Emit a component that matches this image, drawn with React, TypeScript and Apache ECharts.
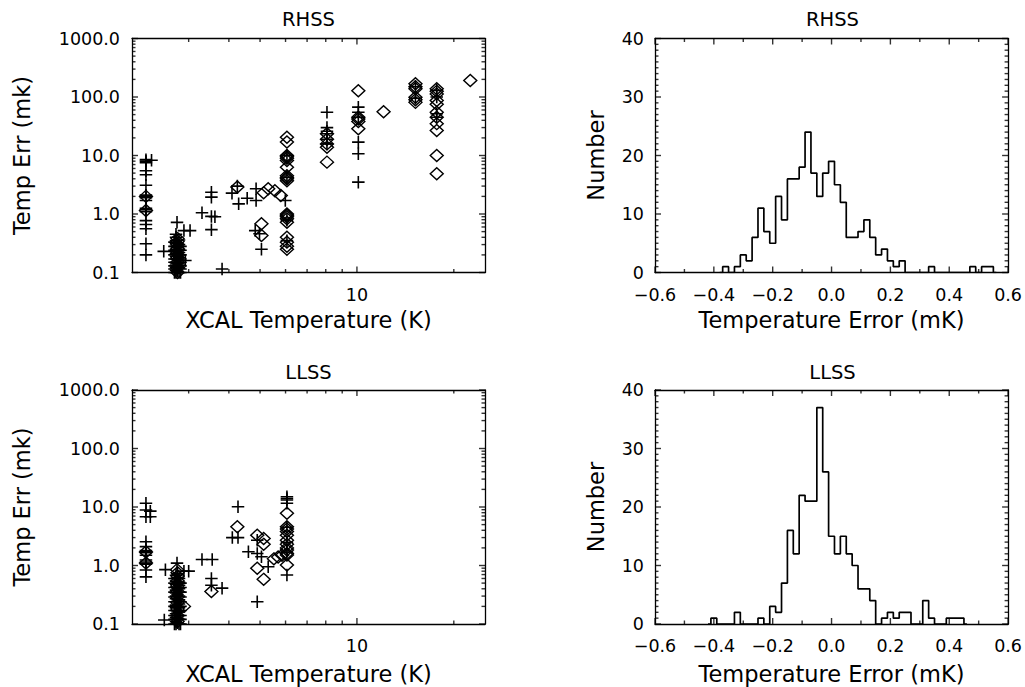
import React, { useEffect, useRef } from "react";
import * as echarts from "echarts";

// ---------------- DATA ----------------
// log-axis tick values (scatter panels)
const xMajorTicks = [10];
const xMinorTicks = [3, 4, 5, 6, 7, 8, 9, 20];
const yMajorTicks = [0.1, 1, 10, 100, 1000];
const yMinorTicks = [
  0.2, 0.3, 0.4, 0.5, 0.6, 0.7, 0.8, 0.9,
  2, 3, 4, 5, 6, 7, 8, 9,
  20, 30, 40, 50, 60, 70, 80, 90,
  200, 300, 400, 500, 600, 700, 800, 900,
];
// histogram tick values
const histXMajor = [-0.6, -0.4, -0.2, 0, 0.2, 0.4, 0.6];
const histXMinor = [-0.5, -0.3, -0.1, 0.1, 0.3, 0.5];
const histYMajor = [0, 10, 20, 30, 40];
const histYMinor = [
  1, 2, 3, 4, 5, 6, 7, 8, 9,
  11, 12, 13, 14, 15, 16, 17, 18, 19,
  21, 22, 23, 24, 25, 26, 27, 28, 29,
  31, 32, 33, 34, 35, 36, 37, 38, 39,
];

// RHSS scatter: temperature (K) vs temp error (mK)
const rhssPlus: number[][] = [
  [2.21, 8.5], [2.21, 8.0], [2.21, 7.5], [2.21, 5.5], [2.21, 4.7], [2.21, 3.1], [2.21, 2.1], [2.21, 2.0],
  [2.21, 1.9], [2.21, 1.7], [2.21, 1.25], [2.21, 1.18], [2.21, 1.1], [2.21, 0.77], [2.21, 0.66], [2.21, 0.56],
  [2.21, 0.31], [2.21, 0.2], [2.3, 8.3],
  [2.51, 0.23], [2.76, 0.72], [2.9, 0.52], [3.03, 0.52], [2.93, 0.16], [3.3, 1.05], [3.53, 2.36], [3.53, 1.94],
  [3.53, 0.91], [3.62, 0.9], [3.53, 0.54], [3.81, 0.115], [4.09, 2.27], [4.25, 3.0], [4.29, 1.49], [4.56, 1.86],
  [4.86, 2.7], [4.86, 1.7], [4.83, 0.52], [4.98, 0.46], [5.05, 0.25], [5.99, 1.7],
  [2.74, 0.1], [2.74, 0.11], [2.74, 0.12], [2.74, 0.13], [2.74, 0.14], [2.74, 0.15], [2.74, 0.17], [2.74, 0.19],
  [2.74, 0.21], [2.74, 0.23], [2.74, 0.25], [2.74, 0.28], [2.74, 0.31], [2.74, 0.35], [2.74, 0.4], [2.74, 0.45],
  [2.8, 0.1], [2.8, 0.12], [2.8, 0.14], [2.8, 0.16], [2.8, 0.18], [2.8, 0.2], [2.8, 0.22], [2.8, 0.25],
  [2.8, 0.3], [2.8, 0.36],
  [2.71, 0.1], [2.71, 0.115], [2.71, 0.13], [2.71, 0.15], [2.71, 0.17], [2.71, 0.2], [2.71, 0.24], [2.71, 0.28],
  [2.71, 0.33],
  [2.83, 0.1], [2.83, 0.115], [2.83, 0.13], [2.83, 0.15], [2.83, 0.17], [2.83, 0.2], [2.83, 0.24], [2.83, 0.28],
  [2.77, 0.105], [2.77, 0.125], [2.77, 0.145], [2.77, 0.165], [2.77, 0.19], [2.77, 0.215], [2.77, 0.24],
  [2.77, 0.27], [2.77, 0.32],
  [6.06, 10], [6.06, 4.2], [6.06, 0.78], [6.06, 0.35],
  [8.07, 55], [8.07, 30], [8.07, 26], [8.07, 23.5], [8.07, 19], [8.07, 15.8],
  [10.1, 67], [10.1, 55], [10.1, 45], [10.1, 16.9], [10.1, 10.7], [10.1, 3.5],
  [15.2, 150], [15.2, 95],
  [17.7, 130], [17.7, 100], [17.7, 51.6], [17.7, 45],
];
const rhssDiamond: number[][] = [
  [2.21, 2.0], [2.21, 1.15],
  [2.77, 0.1], [2.77, 0.12], [2.77, 0.15], [2.77, 0.18], [2.77, 0.22], [2.77, 0.26], [2.77, 0.3], [2.77, 0.34], [2.77, 0.38],
  [4.25, 2.9], [5.05, 0.68], [5.05, 0.43], [5.13, 2.3], [5.3, 2.7], [5.56, 2.5], [5.8, 2.07],
  [6.06, 20.5], [6.06, 17], [6.06, 10], [6.06, 9.5], [6.06, 9], [6.06, 8.2], [6.06, 6.3], [6.06, 4.5], [6.06, 4.2],
  [6.06, 4], [6.06, 3.7], [6.06, 1.0], [6.06, 0.95], [6.06, 0.9], [6.06, 0.83], [6.06, 0.72], [6.06, 0.4],
  [6.06, 0.33], [6.06, 0.28], [6.06, 0.25],
  [8.07, 23.5], [8.07, 19], [8.07, 15.8], [8.07, 13.8], [8.07, 7.7],
  [10.1, 128], [10.1, 45], [10.1, 42], [10.1, 38], [10.1, 28.6],
  [12.1, 56],
  [15.2, 168], [15.2, 150], [15.2, 138], [15.2, 99], [15.2, 90], [15.2, 81],
  [17.7, 138], [17.7, 125], [17.7, 113], [17.7, 87], [17.7, 75], [17.7, 55], [17.7, 45], [17.7, 35], [17.7, 26.7],
  [17.7, 10], [17.7, 4.87],
  [22.5, 191],
];

// LLSS scatter
const llssPlus: number[][] = [
  [2.21, 11.6], [2.21, 8.9], [2.21, 6.8], [2.21, 2.55], [2.21, 2.1], [2.21, 1.8], [2.21, 1.72], [2.21, 1.65],
  [2.21, 1.5], [2.21, 1.24], [2.21, 1.15], [2.21, 1.09], [2.21, 1.05], [2.21, 0.84], [2.21, 0.64],
  [2.28, 6.8], [2.28, 8.5],
  [2.54, 0.85], [2.52, 0.117], [2.76, 1.1], [3.0, 0.8], [2.9, 0.8],
  [2.74, 0.1], [2.74, 0.11], [2.74, 0.12], [2.74, 0.13], [2.74, 0.15], [2.74, 0.17], [2.74, 0.19], [2.74, 0.21],
  [2.74, 0.24], [2.74, 0.27], [2.74, 0.3], [2.74, 0.34], [2.74, 0.38], [2.74, 0.43], [2.74, 0.48], [2.74, 0.54],
  [2.74, 0.6], [2.74, 0.68],
  [2.8, 0.1], [2.8, 0.12], [2.8, 0.14], [2.8, 0.16], [2.8, 0.19], [2.8, 0.22], [2.8, 0.26], [2.8, 0.3],
  [2.8, 0.35], [2.8, 0.4], [2.8, 0.46], [2.8, 0.52], [2.8, 0.6],
  [2.71, 0.1], [2.71, 0.12], [2.71, 0.14], [2.71, 0.17], [2.71, 0.2], [2.71, 0.24], [2.71, 0.29], [2.71, 0.35],
  [2.71, 0.42], [2.71, 0.5], [2.71, 0.6],
  [2.83, 0.1], [2.83, 0.12], [2.83, 0.14], [2.83, 0.17], [2.83, 0.2], [2.83, 0.24], [2.83, 0.29], [2.83, 0.35],
  [2.83, 0.42], [2.83, 0.5],
  [2.77, 0.105], [2.77, 0.125], [2.77, 0.16], [2.77, 0.2], [2.77, 0.26], [2.77, 0.32], [2.77, 0.4], [2.77, 0.5],
  [2.77, 0.62], [2.77, 0.72],
  [3.3, 1.27], [3.55, 1.27], [3.53, 0.6], [3.53, 0.46], [3.81, 0.41], [4.27, 10.1], [4.1, 3.0], [4.27, 3.0],
  [4.6, 1.72], [4.9, 2.7], [4.9, 1.6], [4.9, 0.24], [5.05, 1.41], [5.3, 0.95],
  [6.06, 15], [6.06, 14], [6.06, 13.2], [6.06, 11.6], [6.06, 4.5], [6.06, 2.5], [6.06, 1.7], [6.06, 0.69],
];
const llssDiamond: number[][] = [
  [2.21, 1.7], [2.21, 1.1],
  [2.77, 0.11], [2.77, 0.14], [2.77, 0.18], [2.77, 0.23], [2.77, 0.29], [2.77, 0.36], [2.77, 0.45], [2.77, 0.55],
  [2.77, 0.66], [2.77, 0.75],
  [2.76, 0.85], [2.9, 0.2], [3.53, 0.36], [4.25, 4.6], [4.9, 3.3], [5.13, 2.9], [5.13, 2.3], [4.9, 0.9],
  [5.13, 0.58], [5.52, 1.3], [5.69, 1.4], [5.85, 1.5],
  [6.06, 7.8], [6.06, 4.6], [6.06, 4.2], [6.06, 3.8], [6.06, 3.3], [6.06, 2.7], [6.06, 2.3], [6.06, 2.0],
  [6.06, 1.84], [6.06, 1.6], [6.06, 1.51], [6.06, 1.02],
];

// Histograms: bin width 0.02 mK, counts from the first bin centre
const binWidth = 0.02;
const rhssBinStart = -0.38;
const rhssCounts = [
  0, 1, 0, 1, 3, 2, 6, 11, 7, 5, 13, 9, 16, 16, 18, 24, 17, 13, 17, 19,
  15, 12, 6, 6, 7, 9, 6, 3, 4, 2, 1, 2, 0, 0, 0, 0, 1, 0, 0, 0,
  0, 0, 0, 1, 0, 1, 1, 0,
];
const llssBinStart = -0.42;
const llssCounts = [
  0, 1, 0, 0, 0, 2, 0, 0, 0, 1, 0, 3, 2, 7, 16, 12, 22, 21, 21, 37,
  26, 15, 12, 15, 12, 10, 6, 6, 4, 0, 1, 2, 1, 2, 2, 0, 0, 4, 1, 0,
  0, 1, 1, 1, 0,
];

// axis ranges
const scatterXRange = [2, 25];
const scatterYRange = [0.1, 1000];
const histXRange = [-0.6, 0.6];
const histYRange = [0, 40];

// ---------------- STYLE ----------------
const FONT = '"DejaVu Sans", sans-serif';
const INK = "#000000";
const frameLine = { show: true, onZero: false, lineStyle: { color: INK, width: 1.3 } };
const labelText = { color: INK, fontFamily: FONT, fontSize: 17.5 };
const nameText = { color: INK, fontFamily: FONT, fontSize: 22.5 };
const MAJOR = 6;
const MINOR = 3.5;
const TICK_W = 1.4;

const fmtSigned = (v: number) => {
  const s = (Math.abs(v) < 1e-9 ? 0 : v).toFixed(1);
  return s.replace("-", "\u2212");
};

function histData(start: number, counts: number[]) {
  return counts.map((c, i) => [Math.round((start + i * binWidth) * 1000) / 1000, c]);
}

function baseAxis(gridIndex: number, position: string, type: string, range: number[]) {
  const ax: any = {
    type, gridIndex, position, min: range[0], max: range[1], silent: true,
    axisLine: frameLine,
    axisTick: { show: false },
    minorTick: { show: false },
    axisLabel: { show: false },
    splitLine: { show: false },
    minorSplitLine: { show: false },
  };
  if (type === "log") ax.logBase = 10;
  return ax;
}

function withName(ax: any, name: string, gap: number) {
  ax.name = name;
  ax.nameLocation = "middle";
  ax.nameGap = gap;
  ax.nameTextStyle = nameText;
  return ax;
}

function scatterXMain(gridIndex: number, gap: number) {
  const ax = baseAxis(gridIndex, "bottom", "log", scatterXRange);
  ax.axisLabel = { show: true, customValues: xMajorTicks, formatter: (v: number) => String(Math.round(v)), margin: 13, ...labelText };
  return withName(ax, "XCAL Temperature (K)", gap);
}
function scatterYMain(gridIndex: number) {
  const ax = baseAxis(gridIndex, "left", "log", scatterYRange);
  ax.axisLabel = { show: true, customValues: yMajorTicks, formatter: (v: number) => Number(v).toFixed(1), margin: 12, ...labelText };
  return withName(ax, "Temp Err (mk)", 99);
}
function histXMain(gridIndex: number, gap: number) {
  const ax = baseAxis(gridIndex, "bottom", "value", histXRange);
  ax.interval = 0.2;
  ax.axisLabel = { show: true, formatter: fmtSigned, margin: 13, ...labelText };
  return withName(ax, "Temperature Error (mK)", gap);
}
function histYMain(gridIndex: number) {
  const ax = baseAxis(gridIndex, "left", "value", histYRange);
  ax.interval = 10;
  ax.axisLabel = { show: true, margin: 11, ...labelText };
  return withName(ax, "Number", 48);
}

const PLUS = "path://M0,6L12,6M6,0L6,12";

function plusSeries(data: number[][], xi: number) {
  return {
    type: "scatter", xAxisIndex: xi, yAxisIndex: xi, data, symbol: PLUS, symbolSize: 12.5, silent: true,
    itemStyle: { color: "rgba(0,0,0,0)", borderColor: INK, borderWidth: 1.6, opacity: 1 },
  };
}
function diamondSeries(data: number[][], xi: number) {
  return {
    type: "scatter", xAxisIndex: xi, yAxisIndex: xi, data, symbol: "diamond", symbolSize: [13, 12], silent: true,
    itemStyle: { color: "rgba(0,0,0,0)", borderColor: INK, borderWidth: 1.4, opacity: 1 },
  };
}
function histSeries(data: number[][], xi: number) {
  return {
    type: "line", xAxisIndex: xi, yAxisIndex: xi, data, step: "middle", symbol: "none", silent: true,
    lineStyle: { color: INK, width: 1.7 },
  };
}

// inward tick marks drawn at the frame through the axis scales
function tickMarks(xi: number, pts: number[][], size: number[], offset: number[]) {
  return {
    type: "scatter", xAxisIndex: xi, yAxisIndex: xi, data: pts, symbol: "rect",
    symbolSize: size, symbolOffset: offset, clip: false, silent: true, z: 4,
    itemStyle: { color: INK, borderWidth: 0 },
  };
}
function xTickSeries(xi: number, values: number[], yr: number[], len: number) {
  return [
    tickMarks(xi, values.map((v) => [v, yr[0]]), [TICK_W, len], [0, -len / 2]),
    tickMarks(xi, values.map((v) => [v, yr[1]]), [TICK_W, len], [0, len / 2]),
  ];
}
function yTickSeries(xi: number, values: number[], xr: number[], len: number) {
  return [
    tickMarks(xi, values.map((v) => [xr[0], v]), [len, TICK_W], [len / 2, 0]),
    tickMarks(xi, values.map((v) => [xr[1], v]), [len, TICK_W], [-len / 2, 0]),
  ];
}
function scatterTicks(xi: number) {
  return [
    ...xTickSeries(xi, xMajorTicks, scatterYRange, MAJOR),
    ...xTickSeries(xi, xMinorTicks, scatterYRange, MINOR),
    ...yTickSeries(xi, yMajorTicks, scatterXRange, MAJOR),
    ...yTickSeries(xi, yMinorTicks, scatterXRange, MINOR),
  ];
}
function histTicks(xi: number) {
  return [
    ...xTickSeries(xi, histXMajor, histYRange, MAJOR),
    ...xTickSeries(xi, histXMinor, histYRange, MINOR),
    ...yTickSeries(xi, histYMajor, histXRange, MAJOR),
    ...yTickSeries(xi, histYMinor, histXRange, MINOR),
  ];
}

function titleText(text: string, x: number, y: number) {
  return {
    type: "text", x, y, silent: true,
    style: { text, fill: INK, font: `19.5px ${FONT}`, textAlign: "center", textVerticalAlign: "top" },
  };
}

export default function App() {
  const ref = useRef<HTMLDivElement>(null);
  useEffect(() => {
    if (!ref.current) return;
    const chart = echarts.init(ref.current, undefined, { renderer: "svg" });
    const L1 = 132, L2 = 655, W1 = 353, W2 = 355, T1 = 38.5, T2 = 390, H = 234;
    const option: any = {
      animation: false,
      backgroundColor: "#ffffff",
      grid: [
        { left: L1, top: T1, width: W1, height: H }, // 0 TL
        { left: L2, top: T1, width: W2, height: H }, // 1 TR
        { left: L1, top: T2, width: W1, height: H }, // 2 BL
        { left: L2, top: T2, width: W2, height: H }, // 3 BR
      ],
      xAxis: [
        scatterXMain(0, 35.5), // 0
        histXMain(1, 36), // 1
        scatterXMain(2, 38), // 2
        histXMain(3, 38.5), // 3
        baseAxis(0, "top", "log", scatterXRange), // 4
        baseAxis(1, "top", "value", histXRange), // 5
        baseAxis(2, "top", "log", scatterXRange), // 6
        baseAxis(3, "top", "value", histXRange), // 7
      ],
      yAxis: [
        scatterYMain(0), // 0
        histYMain(1), // 1
        scatterYMain(2), // 2
        histYMain(3), // 3
        baseAxis(0, "right", "log", scatterYRange), // 4
        baseAxis(1, "right", "value", histYRange), // 5
        baseAxis(2, "right", "log", scatterYRange), // 6
        baseAxis(3, "right", "value", histYRange), // 7
      ],
      series: [
        plusSeries(rhssPlus, 0),
        diamondSeries(rhssDiamond, 0),
        histSeries(histData(rhssBinStart, rhssCounts), 1),
        plusSeries(llssPlus, 2),
        diamondSeries(llssDiamond, 2),
        histSeries(histData(llssBinStart, llssCounts), 3),
        ...scatterTicks(0),
        ...histTicks(1),
        ...scatterTicks(2),
        ...histTicks(3),
      ],
      graphic: [
        titleText("RHSS", 308.5, 9),
        titleText("RHSS", 832.5, 9),
        titleText("LLSS", 308.5, 362),
        titleText("LLSS", 832.5, 362),
      ],
    };
    chart.setOption(option);
    return () => chart.dispose();
  }, []);
  return (
    <div
      ref={ref}
      style={{ position: "fixed", left: 0, top: 0, width: 1025, height: 687, background: "#ffffff" }}
    />
  );
}
